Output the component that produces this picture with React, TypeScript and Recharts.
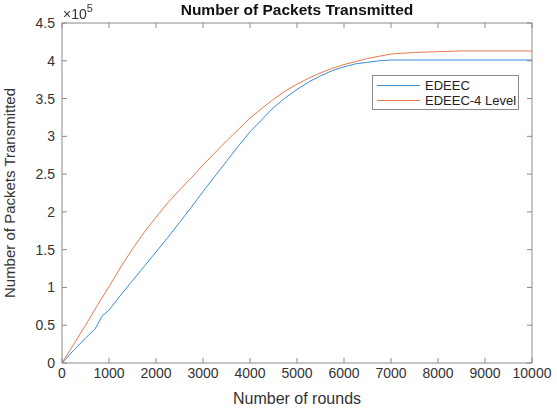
import { Line, LineChart, XAxis, YAxis } from "recharts"

const rounds = [0, 1000, 2000, 3000, 4000, 5000, 6000, 7000, 8000, 9000, 10000]
const yTicks = [0, 50000, 100000, 150000, 200000, 250000, 300000, 350000, 400000, 450000]

const edeecRounds = [
  0, 250, 500, 700, 750, 850, 1000, 1250, 1500, 1750, 2000, 2250, 2500, 2750, 3000, 3250, 3500,
  3750, 4000, 4250, 4500, 4750, 5000, 5250, 5500, 5750, 6000, 6250, 6500, 6750, 7000, 7500, 10000,
]
const edeecPackets = [
  0, 17000, 33000, 45000, 50000, 62000, 70000, 90000, 109000, 128000, 147000, 166000, 186000,
  206000, 227000, 247000, 267000, 287000, 306000, 322000, 338000, 351000, 362000, 372000, 380000,
  387000, 392000, 396000, 398000, 400000, 401000, 401000, 401000,
]

const level4Rounds = [
  0, 250, 500, 750, 1000, 1250, 1500, 1750, 2000, 2250, 2500, 2750, 3000, 3250, 3500, 3750, 4000,
  4250, 4500, 4750, 5000, 5250, 5500, 5750, 6000, 6250, 6500, 6750, 7000, 7500, 8000, 8500, 9000,
  10000,
]
const level4Packets = [
  0, 25000, 50000, 76000, 101000, 127000, 151000, 173000, 193000, 212000, 229000, 245000, 262000,
  278000, 294000, 309000, 324000, 337000, 349000, 360000, 369000, 377000, 384000, 390000, 395000,
  399000, 403000, 406000, 409000, 411000, 412000, 413000, 413000, 413000,
]

const edeec = edeecRounds.map((r, i) => ({ round: r, packets: edeecPackets[i] }))
const level4 = level4Rounds.map((r, i) => ({ round: r, packets: level4Packets[i] }))

const BLUE = "#3a8ed4"
const ORANGE = "#e67a4c"
const AXIS = "#8a8a8a"
const TEXT = "#333333"
const FONT = "'Liberation Sans', Arial, sans-serif"

const tickStyle = { fill: TEXT, fontSize: 14, fontFamily: FONT }

function LegendBox() {
  const items = [
    { name: "EDEEC", color: BLUE },
    { name: "EDEEC-4 Level", color: ORANGE },
  ]
  return (
    <div
      style={{
        position: "absolute",
        left: 372,
        top: 75,
        border: "1px solid #8a8a8a",
        background: "#fff",
        width: 147,
        height: 35,
        padding: "2px 0",
        boxSizing: "border-box",
        fontFamily: FONT,
        fontSize: 13,
        color: "#222",
      }}
    >
      {items.map((it) => (
        <div key={it.name} style={{ display: "flex", alignItems: "center", height: 15 }}>
          <div style={{ width: 43, height: 1, background: it.color, marginLeft: 4, marginRight: 5 }} />
          <span>{it.name}</span>
        </div>
      ))}
    </div>
  )
}

export default function App() {
  return (
    <div style={{ position: "fixed", left: 0, top: 0, width: 557, height: 411, background: "#fff" }}>
      <LineChart
        width={557}
        height={411}
        margin={{ top: 22, right: 24, left: 0, bottom: 0 }}
        style={{ position: "absolute", left: 0, top: 0 }}
      >
        <XAxis
          xAxisId="b"
          dataKey="round"
          type="number"
          domain={[0, 10000]}
          ticks={rounds}
          height={48}
          tickSize={-5}
          tickMargin={10}
          tick={tickStyle}
          stroke={AXIS}
          allowDuplicatedCategory={false}
          label={{
            value: "Number of rounds",
            position: "insideBottom",
            offset: 7,
            style: { fill: TEXT, fontSize: 16, fontFamily: FONT },
          }}
        />
        <XAxis
          xAxisId="t"
          orientation="top"
          dataKey="round"
          type="number"
          domain={[0, 10000]}
          ticks={rounds}
          height={1}
          tickSize={-5}
          tick={() => <g />}
          stroke={AXIS}
          allowDuplicatedCategory={false}
        />
        <YAxis
          yAxisId="l"
          type="number"
          domain={[0, 450000]}
          ticks={yTicks}
          width={62}
          tickSize={-5}
          tickMargin={12}
          tick={tickStyle}
          tickFormatter={(v: number) => String(v / 100000)}
          stroke={AXIS}
          label={{
            value: "Number of Packets Transmitted",
            angle: -90,
            position: "insideLeft",
            offset: 10,
            style: { fill: TEXT, fontSize: 15, fontFamily: FONT, textAnchor: "middle" },
          }}
        />
        <YAxis
          yAxisId="r"
          orientation="right"
          type="number"
          domain={[0, 450000]}
          ticks={yTicks}
          width={1}
          tickSize={-5}
          tick={() => <g />}
          stroke={AXIS}
        />
        <Line
          xAxisId="t"
          yAxisId="r"
          data={edeec}
          dataKey="packets"
          name="EDEEC"
          type="linear"
          stroke={BLUE}
          strokeWidth={1}
          dot={false}
          isAnimationActive={false}
        />
        <Line
          xAxisId="b"
          yAxisId="l"
          data={level4}
          dataKey="packets"
          name="EDEEC-4 Level"
          type="linear"
          stroke={ORANGE}
          strokeWidth={1}
          dot={false}
          isAnimationActive={false}
        />
      </LineChart>
      <div
        style={{
          position: "absolute",
          left: 0,
          width: 594,
          top: 1,
          textAlign: "center",
          fontFamily: FONT,
          fontWeight: "bold",
          fontSize: 15.5,
          color: "#111",
        }}
      >
        Number of Packets Transmitted
      </div>
      <div
        style={{
          position: "absolute",
          left: 63,
          top: 3,
          fontFamily: FONT,
          fontSize: 14,
          color: TEXT,
        }}
      >
        ×10<sup style={{ fontSize: 11, position: "relative", top: -1 }}>5</sup>
      </div>
      <LegendBox />
    </div>
  )
}
